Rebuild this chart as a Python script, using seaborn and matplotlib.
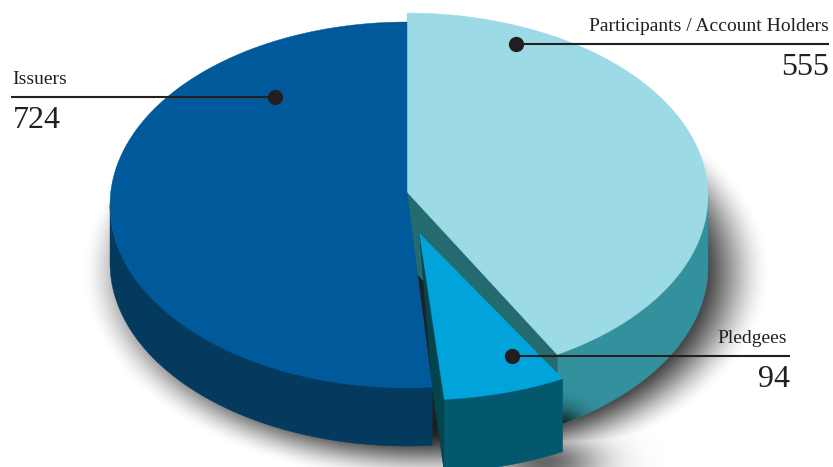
import numpy as np
import seaborn as sns
import matplotlib
matplotlib.use("Agg")
import matplotlib.pyplot as plt
from matplotlib.patches import Polygon

# ---------- data ----------
categories = ["Participants / Account Holders", "Pledgees", "Issuers"]
values = [555, 94, 724]

# ---------- style ----------
palette = sns.color_palette(["#9cdae6", "#00a3da", "#00599a"])
side_colors = sns.color_palette(["#33919e", "#03586e", "#043a5e"])
inner_colors = sns.color_palette(["#236b6e", "#04444f"])
ink = "#231f20"

sns.set_theme(style="white")
plt.rcParams["font.family"] = ["Liberation Serif", "DejaVu Serif"]

W, H = 833, 467
fig = plt.figure(figsize=(W / 100, H / 100), dpi=100)
ax = fig.add_axes([0, 0, 1, 1])
ax.set_xlim(0, W)
ax.set_ylim(H, 0)
ax.axis("off")

# Geometry of each slice in picture space: centre, radii, apex, depth
geom = {
    "Participants / Account Holders": dict(c=(407, 196), r=(301, 183), apex=(407, 192), d=71),
    "Pledgees": dict(c=(420, 240), r=(286, 160), apex=(419.5, 233.5), d=73),
    "Issuers": dict(c=(407, 205), r=(297, 183), apex=(407, 192), d=58),
}


def warp(t):
    # perspective warp of the pie angle (degrees clockwise from the top)
    return t + 5 * (1 - np.cos(np.radians(t))) / 2


fracs = np.array(values) / np.sum(values)
edges = np.concatenate([[0], np.cumsum(fracs) * 360])
spans = {k: (warp(edges[i]), warp(edges[i + 1])) for i, k in enumerate(categories)}


def rim(name, t0, t1, n=160, dy=0):
    g = geom[name]
    t = np.radians(np.linspace(t0, t1, n))
    return np.column_stack([g["c"][0] + g["r"][0] * np.sin(t),
                            g["c"][1] - g["r"][1] * np.cos(t) + dy])


def side_poly(name, t0, t1):
    g = geom[name]
    return np.vstack([rim(name, t0, t1), rim(name, t1, t0, dy=g["d"])])


def add(pts, color, z):
    p = Polygon(pts, closed=True, fc=color, ec=color, lw=0.3, zorder=z)
    ax.add_patch(p)
    return p


def soft(alpha, z, clip=None):
    rgba = np.zeros(alpha.shape + (4,))
    rgba[..., 3] = np.clip(alpha, 0, 1)
    im = ax.imshow(rgba, extent=(0, W, H, 0), zorder=z, interpolation="bilinear", aspect="auto")
    if clip is not None:
        im.set_clip_path(clip)
    return im


yy, xx = np.mgrid[0.5:H, 0.5:W]

# drop shadow of the whole pie
rad = np.hypot((xx - 426) / 300, (yy - 272) / 183)
dist = (rad - 1) * 230
s = np.clip(0.52 - dist / 68, 0, 1)
shadow = 0.88 * s * s * (3 - 2 * s)
# extra shadow thrown by the exploded slice
shadow = np.maximum(shadow, 0.6 * np.exp(-((xx - 545) / 55) ** 2 - ((yy - 462) / 26) ** 2))
soft(shadow, 1)

P, L, I = categories[0], categories[1], categories[2]

# Participants
p_side = add(side_poly(P, 90, spans[P][1]), side_colors[0], 2)
a = rim(P, spans[P][1], spans[P][1], 1)[0]
d = geom[P]["d"]
apex = np.array(geom[P]["apex"])
add([apex, a, a + [0, d], apex + [0, d]], inner_colors[0], 3)
add(np.vstack([[apex], rim(P, *spans[P])]), palette[0], 4)

# shade cast on the participants' rim by the exploded slice
soft(0.75 * np.exp(-((xx - 562) / 22) ** 2 - ((yy - 428) / 20) ** 2), 3.5, clip=p_side)

# Issuers
add(side_poly(I, spans[I][0], 270), side_colors[2], 5)
add(np.vstack([[geom[I]["apex"]], rim(I, *spans[I])]), palette[2], 6)
issuer_corner = rim(I, spans[I][0], spans[I][0], 1)[0]

# Pledgees
apex = np.array(geom[L]["apex"])
d = geom[L]["d"]
lft = rim(L, spans[L][1], spans[L][1], 1)[0]
add([apex, lft, lft + [0, d], issuer_corner], inner_colors[1], 5.5)
add([apex, lft, lft + [0, d]], inner_colors[1], 7)
add(side_poly(L, *spans[L]), side_colors[1], 8)
add(np.vstack([[apex], rim(L, *spans[L])]), palette[1], 9)

# call-outs: dot x, line y, line end, text anchor
callouts = {
    I: dict(dot=275, y=97, x0=11, x1=275, tx=12, ha="left"),
    P: dict(dot=516, y=44, x0=516, x1=829, tx=829, ha="right"),
    L: dict(dot=512, y=356, x0=512, x1=790, tx=787, ha="right"),
}
labels = dict(zip(categories, values))
for name, c in callouts.items():
    ax.plot([c["x0"], c["x1"]], [c["y"], c["y"]], color=ink, lw=1.5, zorder=10, solid_capstyle="butt")
    ax.plot([c["dot"]], [c["y"]], "o", ms=11, color=ink, mew=0, zorder=11)
    ax.text(c["tx"], c["y"] - 13, name, ha=c["ha"], va="baseline", fontsize=14, color=ink, zorder=12)
    nx = c["tx"] + (1 if c["ha"] == "left" else 0) + (3 if name == L else 0)
    ax.text(nx, c["y"] + 31, str(labels[name]), ha=c["ha"], va="baseline", fontsize=23, color=ink, zorder=12)

ax.set_xlim(0, W)
ax.set_ylim(H, 0)
fig.savefig("out.png", dpi=100)
